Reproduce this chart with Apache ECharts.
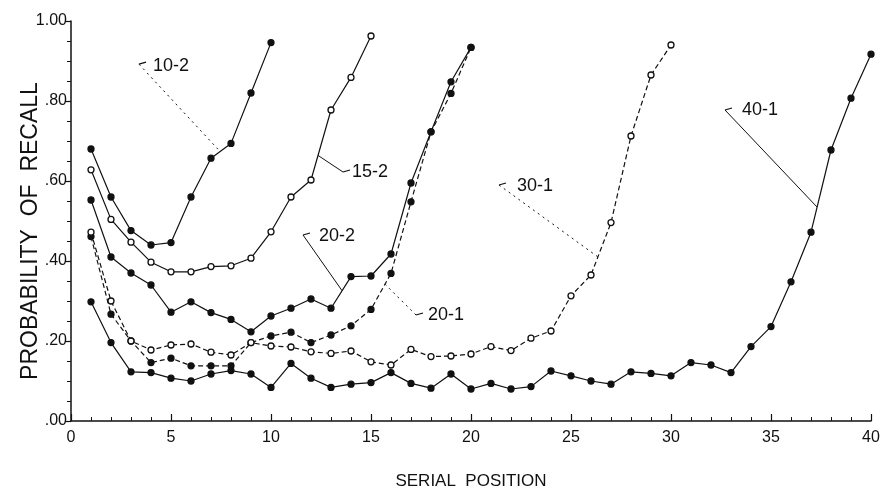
<!DOCTYPE html>
<html>
<head>
<meta charset="utf-8">
<script src="https://cdn.jsdelivr.net/npm/echarts@6/dist/echarts.min.js"></script>
<style>html,body{margin:0;padding:0;background:#fff;}#c{width:881px;height:491px;}</style>
</head>
<body>
<div id="c"></div>
<script>
// Probability of recall by serial position
const s10_2 = [0.68,0.56,0.476,0.44,0.446,0.56,0.657,0.694,0.82,0.946];
const s15_2 = [0.628,0.504,0.447,0.397,0.373,0.373,0.386,0.388,0.407,0.473,0.56,0.6025,0.7775,0.859,0.9625];
const s20_2 = [0.5525,0.41,0.37,0.34,0.272,0.298,0.271,0.254,0.223,0.2625,0.282,0.305,0.282,0.361,0.3625,0.4175,0.595,0.723,0.848,0.934];
const s20_1 = [0.461,0.267,0.20,0.146,0.157,0.138,0.138,0.138,0.196,0.2125,0.222,0.196,0.215,0.238,0.279,0.369,0.548,0.723,0.819,0.934];
const s30_1 = [0.472,0.30,0.20,0.1775,0.19,0.1925,0.172,0.165,0.196,0.1875,0.185,0.173,0.169,0.175,0.148,0.14,0.179,0.161,0.1625,0.1675,0.186,0.176,0.207,0.225,0.313,0.365,0.496,0.7125,0.865,0.94];
const s40_1 = [0.298,0.196,0.123,0.121,0.107,0.10,0.1175,0.126,0.1175,0.084,0.144,0.107,0.084,0.092,0.096,0.121,0.094,0.082,0.1175,0.08,0.094,0.08,0.086,0.125,0.113,0.10,0.092,0.123,0.119,0.113,0.146,0.14,0.121,0.186,0.236,0.348,0.472,0.6775,0.807,0.917];
const xTicks = [0,5,10,15,20,25,30,35,40];
const yTicks = [0,0.2,0.4,0.6,0.8,1.0];
// Annotation labels: [text, textAnchor[x,y], leaderStart[x,y], leaderEnd[x,y], dashed]
const notes = [
  ['10-2', [4.1,0.8875], [3.4,0.892], [7.45,0.674], true],
  ['15-2', [14.05,0.6225], [13.6,0.6225], [12.35,0.664], false],
  ['20-2', [12.4,0.4625], [11.6,0.465], [13.55,0.326], false],
  ['20-1', [17.85,0.265], [17.25,0.265], [15.7,0.342], true],
  ['30-1', [22.3,0.5875], [21.4,0.59], [26.35,0.41], true],
  ['40-1', [33.55,0.7775], [32.7,0.7775], [37.3,0.535], false]
];

const font = '"Liberation Sans", Arial, sans-serif';
function pts(arr){ return arr.map((v,i)=>[i+1,v]); }
function mk(name, arr, filled, dashed){
  return {
    name, type:'line', data: pts(arr), symbol:'circle', symbolSize:6,
    lineStyle:{color:'#111', width:1.2, type: dashed ? [5,3] : 'solid'},
    itemStyle:{color: filled ? '#111' : '#fff', borderColor:'#111', borderWidth:1.3},
    emphasis:{disabled:true}, animation:false, z: 3
  };
}
const chart = echarts.init(document.getElementById('c'), null, {renderer:'canvas'});
chart.setOption({
  backgroundColor:'#fff',
  animation:false,
  grid:{left:71, right:10, top:21, bottom:70, containLabel:false, outerBoundsMode:'none'},
  xAxis:{
    type:'value', min:0, max:40, interval:5,
    name:'SERIAL  POSITION', nameLocation:'middle', nameGap:52, nameMoveOverlap:false,
    nameTextStyle:{color:'#111', fontFamily:font, fontSize:17},
    axisLine:{lineStyle:{color:'#111', width:1.5}},
    axisTick:{inside:true, length:7, lineStyle:{color:'#111', width:1.2}},
    minorTick:{show:true, splitNumber:5, length:4, lineStyle:{color:'#111', width:1}},
    axisLabel:{color:'#111', fontFamily:font, fontSize:16, margin:9,
      formatter: v => xTicks.includes(v) ? String(v) : ''},
    splitLine:{show:false}
  },
  yAxis:{
    type:'value', min:0, max:1, interval:0.2,
    name:'PROBABILITY  OF  RECALL', nameLocation:'middle', nameGap:29, nameMoveOverlap:false,
    nameTextStyle:{color:'#111', fontFamily:font, fontSize:23, padding:[0,20,0,0]},
    axisLine:{show:true, lineStyle:{color:'#111', width:1.5}},
    axisTick:{inside:false, length:5, lineStyle:{color:'#111', width:1.2}},
    minorTick:{show:true, splitNumber:4, length:4, lineStyle:{color:'#111', width:1}},
    axisLabel:{color:'#111', fontFamily:font, fontSize:16, margin:4,
      formatter: v => {
        if (!yTicks.some(t=>Math.abs(t-v)<1e-9)) return '';
        return v >= 0.999 ? '1.00' : '.' + String(Math.round(v*100)).padStart(2,'0');
      }},
    splitLine:{show:false}
  },
  series:[
    mk('10-2', s10_2, true, false),
    mk('15-2', s15_2, false, false),
    mk('20-2', s20_2, true, false),
    mk('20-1', s20_1, true, true),
    mk('30-1', s30_1, false, true),
    mk('40-1', s40_1, true, false)
  ]
});

const g = [];
notes.forEach(n => {
  const t = chart.convertToPixel({gridIndex:0}, n[1]);
  const a = chart.convertToPixel({gridIndex:0}, n[2]);
  const b = chart.convertToPixel({gridIndex:0}, n[3]);
  g.push({type:'text', x:t[0], y:t[1], style:{text:n[0], fill:'#111', font:'18px ' + font, textVerticalAlign:'middle', textAlign:'left'}, z:10});
  g.push({type:'line', shape:{x1:a[0], y1:a[1], x2:b[0], y2:b[1]}, style:{stroke:'#111', lineWidth:1, lineDash: n[4] ? [2,4] : null}, z:10});
  g.push({type:'line', shape:{x1:a[0], y1:a[1], x2:a[0]+7, y2:a[1]-2}, style:{stroke:'#111', lineWidth:1.2}, z:10});
});
chart.setOption({graphic: g});
</script>
</body>
</html>
